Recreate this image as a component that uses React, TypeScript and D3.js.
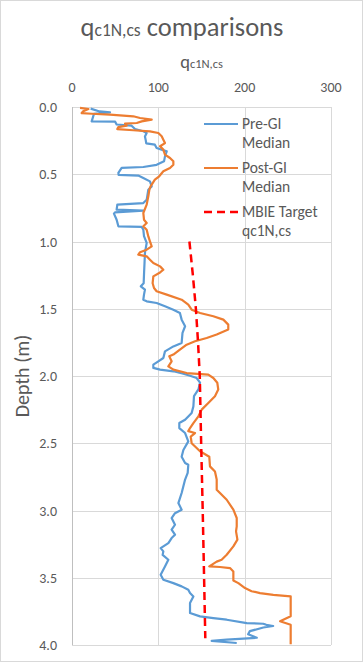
import React, { useEffect, useRef } from "react";
import * as d3 from "d3";

// Pre-GI median (depth in m, qc1N,cs)
const preDepth = [
  0.012, 0.033, 0.04, 0.05, 0.107, 0.109, 0.13, 0.139, 0.164, 0.18, 0.193, 0.22, 0.25, 0.27,
  0.28, 0.305, 0.33, 0.367, 0.404, 0.43, 0.446, 0.453, 0.49, 0.505, 0.51, 0.528, 0.553, 0.59,
  0.615, 0.69, 0.714, 0.726, 0.763, 0.77, 0.783, 0.793, 0.838, 0.887, 0.892, 0.912, 0.96,
  1.01, 1.085, 1.16, 1.23, 1.31, 1.333, 1.358, 1.395, 1.433, 1.445, 1.457, 1.482, 1.507,
  1.532, 1.581, 1.63, 1.68, 1.754, 1.78, 1.817, 1.866, 1.891, 1.916, 1.94, 1.953, 1.965,
  1.983, 1.998, 2.015, 2.05, 2.1, 2.15, 2.226, 2.275, 2.325, 2.35, 2.387, 2.424, 2.486, 2.55,
  2.6, 2.647, 2.66, 2.72, 2.77, 2.87, 2.945, 2.994, 3.02, 3.056, 3.106, 3.143, 3.18, 3.205,
  3.242, 3.28, 3.304, 3.33, 3.366, 3.416, 3.478, 3.515, 3.54, 3.564, 3.589, 3.614, 3.639,
  3.688, 3.762, 3.787, 3.8, 3.812, 3.837, 3.842, 3.85, 3.859, 3.87, 3.897, 3.92, 3.946, 3.96,
  3.97, 3.985,
];
const preValue = [
  21.6, 32, 44, 25.5, 22.8, 50, 51.7, 69, 73, 82.6, 86.5, 84.5, 85.5, 86, 96, 98, 109.7, 107.7,
  106.6, 98, 82.6, 57.5, 53.7, 54, 76.8, 82.6, 90.3, 92.3, 88.4, 86.5, 82.6, 52.5, 51.7, 82.6,
  49.8, 48.6, 51.7, 53.7, 80.7, 82.6, 83.4, 86.5, 84.5, 84, 83.5, 83, 79.7, 84.5, 83.4, 82.6,
  86.5, 98, 107.7, 117.4, 125, 127, 131, 128, 127, 117.4, 107.7, 105.8, 100, 94.2, 94.2, 102,
  117.4, 129, 136.7, 144.4, 148.3, 146.4, 141.3, 140.6, 138.6, 131, 124.3, 124.3, 131, 134.7,
  129, 127, 131, 134.7, 134, 131, 127, 123.2, 127, 119.3, 115.4, 119.3, 115.4, 119.3, 115.4,
  111.6, 102.7, 105.8, 105, 111.6, 107.7, 102.7, 105.8, 117.4, 127, 134.7, 136.7, 140.6, 136.7,
  136.7, 148.3, 163.7, 179.2, 202.4, 221.6, 225, 233, 221.6, 206, 204, 214, 179.2, 161.8, 190.8,
];

// Post-GI median
const postDepth = [
  0.007, 0.015, 0.032, 0.045, 0.05, 0.057, 0.069, 0.082, 0.094, 0.107, 0.119, 0.124, 0.139,
  0.149, 0.164, 0.173, 0.181, 0.193, 0.218, 0.243, 0.268, 0.292, 0.317, 0.354, 0.379, 0.404,
  0.429, 0.453, 0.478, 0.515, 0.54, 0.59, 0.615, 0.664, 0.726, 0.788, 0.838, 0.862, 0.887,
  0.912, 0.962, 0.999, 1.036, 1.061, 1.08, 1.098, 1.11, 1.135, 1.16, 1.185, 1.21, 1.23, 1.259,
  1.31, 1.346, 1.37, 1.395, 1.433, 1.47, 1.507, 1.532, 1.556, 1.581, 1.618, 1.655, 1.692,
  1.717, 1.742, 1.767, 1.804, 1.841, 1.854, 1.891, 1.928, 1.953, 1.978, 1.99, 2.015, 2.05, 2.1,
  2.15, 2.2, 2.25, 2.3, 2.35, 2.387, 2.41, 2.424, 2.45, 2.5, 2.56, 2.6, 2.672, 2.71, 2.77,
  2.845, 2.87, 2.92, 2.994, 3.056, 3.118, 3.155, 3.217, 3.267, 3.329, 3.366, 3.38, 3.416, 3.42,
  3.428, 3.453, 3.52, 3.54, 3.577, 3.6, 3.614, 3.627, 3.639, 3.787, 3.824, 3.85, 3.995,
];
const postValue = [
  9.3, 19, 13, 11.2, 22.8, 44, 71, 78.8, 92.3, 80.7, 75, 61.4, 63.3, 53.7, 52.5, 71, 90.3, 100,
  103.9, 105.8, 107.7, 102, 105.8, 107.7, 113.5, 117.4, 117.4, 113.5, 105.8, 101, 96, 91, 89.6,
  88.4, 86.5, 82.6, 83.4, 86.5, 82.6, 86.5, 88.4, 90.3, 92.3, 86.5, 78.8, 76.8, 86.5, 90.3,
  94.2, 102, 105.8, 102, 94.2, 93.4, 95, 98, 109.7, 127, 134.7, 138.6, 148.3, 163.7, 175.3,
  181, 181, 167.6, 156, 142.5, 132.8, 125, 117.4, 112.7, 115.4, 111.6, 117.4, 132.8, 157.9,
  163.7, 168.3, 169.4, 165.6, 157.9, 150.2, 146.4, 140.6, 136.7, 134.7, 142.5, 137.5, 138.6,
  148.3, 159, 159.8, 165.6, 167.6, 167.6, 171.4, 179.2, 186.9, 190.8, 190.8, 190, 191.6, 186.9,
  179.2, 173.3, 167.6, 159, 171.4, 183, 186.9, 186.9, 192.7, 200.4, 208, 217.8, 233.2, 253.3,
  253.3, 241, 253.3, 253.3,
];

// MBIE target
const mbieDepth = [1.0, 1.25, 1.5, 1.75, 2.0, 2.5, 3.0, 3.5, 3.95];
const mbieValue = [136, 140, 143.5, 146, 148, 149.6, 151.4, 153, 154.4];

const xTicks = [0, 100, 200, 300];
const yTicks = [0, 0.5, 1, 1.5, 2, 2.5, 3, 3.5, 4];
const legendNames = [
  ["Pre-GI", "Median"],
  ["Post-GI", "Median"],
  ["MBIE Target", "qc1N,cs"],
];

const App = () => {
  const ref = useRef<SVGSVGElement | null>(null);

  useEffect(() => {
    const width = 364;
    const height = 662;
    const left = 72;
    const right = 331;
    const top = 107;
    const bottom = 645;
    const textColor = "#595959";
    const font = "Calibri, Carlito, Lato, sans-serif";

    const x = d3.scaleLinear().domain([0, 300]).range([left, right]);
    const y = d3.scaleLinear().domain([0, 4]).range([top, bottom]);

    const svg = d3.select(ref.current);
    svg.selectAll("*").remove();

    svg
      .append("rect")
      .attr("x", 0.5)
      .attr("y", 0.5)
      .attr("width", width - 2)
      .attr("height", height - 1)
      .attr("fill", "#fff")
      .attr("stroke", "#d9d9d9");

    // gridlines
    svg
      .append("g")
      .selectAll("line")
      .data(xTicks)
      .enter()
      .append("line")
      .attr("x1", (d) => Math.round(x(d)) + 0.5)
      .attr("x2", (d) => Math.round(x(d)) + 0.5)
      .attr("y1", top)
      .attr("y2", bottom)
      .attr("stroke", "#d9d9d9");
    svg
      .append("g")
      .selectAll("line")
      .data(yTicks)
      .enter()
      .append("line")
      .attr("x1", left)
      .attr("x2", right)
      .attr("y1", (d) => Math.round(y(d)) + 0.5)
      .attr("y2", (d) => Math.round(y(d)) + 0.5)
      .attr("stroke", "#d9d9d9");

    // left axis line
    svg
      .append("line")
      .attr("x1", left + 0.5)
      .attr("x2", left + 0.5)
      .attr("y1", top)
      .attr("y2", bottom)
      .attr("stroke", "#bfbfbf");

    // tick labels
    svg
      .append("g")
      .selectAll("text")
      .data(xTicks)
      .enter()
      .append("text")
      .attr("x", (d) => x(d))
      .attr("y", 92)
      .attr("text-anchor", "middle")
      .attr("font-family", font)
      .attr("font-size", 14)
      .attr("fill", textColor)
      .text((d) => d3.format("d")(d));
    svg
      .append("g")
      .selectAll("text")
      .data(yTicks)
      .enter()
      .append("text")
      .attr("x", 57)
      .attr("y", (d) => y(d) + 5)
      .attr("text-anchor", "end")
      .attr("font-family", font)
      .attr("font-size", 14)
      .attr("fill", textColor)
      .text((d) => d3.format(".1f")(d));

    // titles
    const title = svg
      .append("text")
      .attr("x", 182)
      .attr("y", 36)
      .attr("text-anchor", "middle")
      .attr("font-family", font)
      .attr("font-size", 26.5)
      .attr("fill", textColor);
    title.append("tspan").text("q");
    title.append("tspan").attr("font-size", 17.5).text("c1N,cs");
    title.append("tspan").text(" comparisons");

    const xTitle = svg
      .append("text")
      .attr("x", (left + right) / 2)
      .attr("y", 68)
      .attr("text-anchor", "middle")
      .attr("font-family", font)
      .attr("font-size", 18.5)
      .attr("fill", textColor);
    xTitle.append("tspan").text("q");
    xTitle.append("tspan").attr("font-size", 12.5).text("c1N,cs");

    svg
      .append("text")
      .attr("transform", `translate(29, ${(top + bottom) / 2}) rotate(-90)`)
      .attr("text-anchor", "middle")
      .attr("font-family", font)
      .attr("font-size", 20)
      .attr("fill", textColor)
      .text("Depth (m)");

    // series
    const line = d3
      .line<[number, number]>()
      .x((d) => x(d[1]))
      .y((d) => y(d[0]));

    svg
      .append("path")
      .attr("d", line(preDepth.map((d, i) => [d, preValue[i]])))
      .attr("fill", "none")
      .attr("stroke", "#5b9bd5")
      .attr("stroke-width", 2.2)
      .attr("stroke-linejoin", "round");
    svg
      .append("path")
      .attr("d", line(postDepth.map((d, i) => [d, postValue[i]])))
      .attr("fill", "none")
      .attr("stroke", "#ed7d31")
      .attr("stroke-width", 2.2)
      .attr("stroke-linejoin", "round");
    svg
      .append("path")
      .attr("d", line(mbieDepth.map((d, i) => [d, mbieValue[i]])))
      .attr("fill", "none")
      .attr("stroke", "#ff0000")
      .attr("stroke-width", 2.5)
      .attr("stroke-dasharray", "8,5");

    // legend
    const colors = ["#5b9bd5", "#ed7d31", "#ff0000"];
    const lg = svg
      .append("g")
      .selectAll("g")
      .data(legendNames)
      .enter()
      .append("g")
      .attr("transform", (d, i) => `translate(204, ${124 + i * 44})`);
    lg.append("line")
      .attr("x1", 0)
      .attr("x2", 34)
      .attr("stroke", (d, i) => colors[i])
      .attr("stroke-width", (d, i) => (i === 2 ? 2.5 : 2.2))
      .attr("stroke-dasharray", (d, i) => (i === 2 ? "8,5" : null));
    lg.append("text")
      .attr("x", 38)
      .attr("y", 5)
      .attr("font-family", font)
      .attr("font-size", 15.5)
      .attr("fill", textColor)
      .text((d) => d[0]);
    lg.append("text")
      .attr("x", 38)
      .attr("y", 24)
      .attr("font-family", font)
      .attr("font-size", 15.5)
      .attr("fill", textColor)
      .text((d) => d[1]);
  }, []);

  return (
    <svg
      ref={ref}
      width="364"
      height="662"
      style={{ position: "absolute", left: 0, top: 0 }}
    ></svg>
  );
};

export default App;
